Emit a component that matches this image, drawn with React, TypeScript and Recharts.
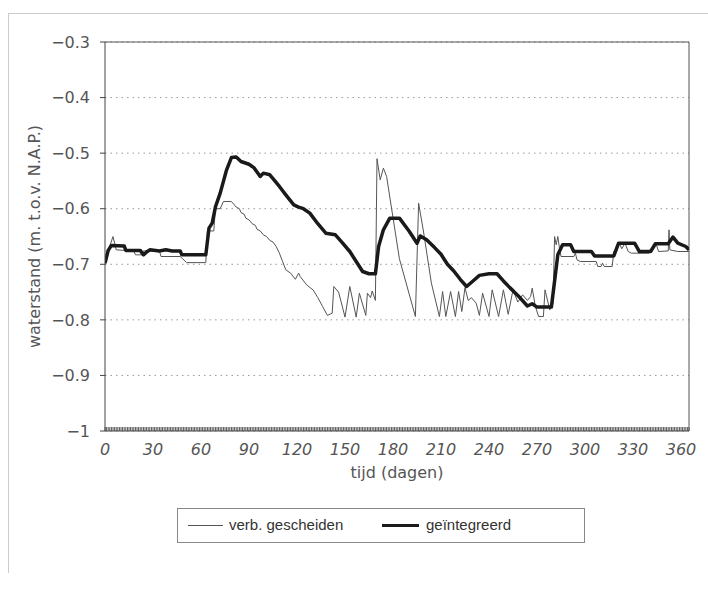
import React from "react";
import {
  LineChart,
  Line,
  XAxis,
  YAxis,
  CartesianGrid,
  ReferenceLine,
} from "recharts";

// verb. gescheiden (thin line)
const thinDays = [
  0, 3, 5, 7, 12, 18, 19, 23, 24, 34, 35, 47, 51, 63, 64, 68, 69, 72, 74, 79,
  82, 84, 85, 87, 88, 90, 92, 94, 95, 97, 99, 101, 103, 105, 107, 109, 111, 113,
  116, 119, 121, 122, 126, 130, 133, 136, 139, 142, 143, 146, 150, 153, 157,
  159, 163, 164, 166, 167, 169, 170, 172, 174, 176, 184, 194, 196, 199, 204,
  209, 211, 213, 216, 219, 221, 223, 225, 227, 229, 232, 234, 236, 240, 242,
  246, 249, 252, 255, 258, 261, 264, 266, 267, 269, 271, 274, 275, 278, 280,
  281, 282, 283, 284, 285, 293, 294, 295, 297, 307, 308, 310, 311, 312, 317,
  318, 320, 321, 323, 325, 327, 329, 340, 342, 344, 346, 352, 352.5, 353, 358,
  365,
];
const thinLevels = [
  -0.7, -0.667, -0.65, -0.674, -0.675, -0.676, -0.683, -0.683, -0.676, -0.676,
  -0.686, -0.686, -0.697, -0.697, -0.64, -0.64, -0.6, -0.6, -0.587, -0.587,
  -0.597, -0.6, -0.607, -0.61, -0.617, -0.62, -0.627, -0.63, -0.637, -0.64,
  -0.647, -0.65, -0.657, -0.66, -0.668, -0.68, -0.695, -0.71, -0.716, -0.727,
  -0.716, -0.722, -0.737, -0.746, -0.76, -0.776, -0.792, -0.788, -0.74, -0.75,
  -0.795, -0.74, -0.795, -0.752, -0.792, -0.752, -0.76, -0.748, -0.765, -0.51,
  -0.548, -0.527, -0.542, -0.69, -0.794, -0.59, -0.64, -0.734, -0.794, -0.749,
  -0.794, -0.749, -0.794, -0.749, -0.785, -0.742, -0.765, -0.76, -0.77, -0.792,
  -0.752, -0.794, -0.746, -0.794, -0.746, -0.79, -0.746, -0.768, -0.755,
  -0.765, -0.758, -0.743, -0.776, -0.794, -0.794, -0.746, -0.782, -0.77,
  -0.65, -0.665, -0.65, -0.67, -0.686, -0.686, -0.68, -0.692, -0.695, -0.695,
  -0.704, -0.704, -0.698, -0.704, -0.704, -0.677, -0.675, -0.66, -0.672,
  -0.662, -0.677, -0.68, -0.68, -0.672, -0.66, -0.677, -0.676, -0.638, -0.674,
  -0.677, -0.677,
];

// geïntegreerd (thick line)
const thickDays = [
  0, 2, 4, 12, 13, 22, 24, 26, 28, 34, 38, 42, 47, 48, 63, 65, 67, 69, 72, 76,
  79, 82, 85, 90, 93, 97, 99, 103, 105, 109, 113, 118, 121, 124, 128, 133, 138,
  144, 148, 153, 157, 161, 165, 169, 171, 174, 178, 184, 190, 195, 197, 201,
  206, 210, 214, 218, 222, 226, 230, 234, 240, 245, 249, 253, 258, 264, 267,
  270, 279, 281, 283, 286, 291, 293, 304, 306, 318, 321, 331, 334, 341, 344,
  352, 355, 358, 363, 365,
];
const thickLevels = [
  -0.698, -0.675, -0.666, -0.667, -0.675, -0.675, -0.683, -0.678, -0.674,
  -0.676, -0.674, -0.676, -0.676, -0.683, -0.683, -0.635, -0.626, -0.597,
  -0.572, -0.53, -0.508, -0.507, -0.515, -0.52, -0.526, -0.542, -0.536, -0.539,
  -0.546, -0.56, -0.575, -0.593, -0.597, -0.6, -0.608, -0.627, -0.644, -0.647,
  -0.66, -0.677, -0.695, -0.713, -0.717, -0.717, -0.668, -0.638, -0.617,
  -0.617, -0.64, -0.662, -0.649, -0.656, -0.67, -0.682, -0.7, -0.712, -0.727,
  -0.74, -0.73, -0.72, -0.717, -0.717, -0.73, -0.742, -0.756, -0.775, -0.771,
  -0.777, -0.777, -0.73, -0.683, -0.665, -0.665, -0.677, -0.677, -0.685,
  -0.685, -0.662, -0.662, -0.677, -0.677, -0.663, -0.663, -0.651, -0.662,
  -0.668, -0.674,
];

const xLabels = [0, 30, 60, 90, 120, 150, 180, 210, 240, 270, 300, 330, 360];
const yTicks = [-1, -0.9, -0.8, -0.7, -0.6, -0.5, -0.4, -0.3];
const dayTicks = Array.from({ length: 366 }, (_, i) => i);

const thinData = thinDays.map((day, i) => ({ day, level: thinLevels[i] }));
const thickData = thickDays.map((day, i) => ({ day, level: thickLevels[i] }));

const axisFont = "'DejaVu Sans', sans-serif";

function DayTick(props: any) {
  const { x, y, payload } = props;
  const day = payload.value;
  return (
    <g>
      <line x1={x} x2={x} y1={y} y2={y - 4} stroke="#555" strokeWidth={1} />
      {xLabels.includes(day) && (
        <text
          x={x}
          y={y + 24}
          textAnchor="middle"
          fontFamily={axisFont}
          fontSize={16}
          fontStyle="italic"
          fill="#555"
        >
          {day}
        </text>
      )}
    </g>
  );
}

function LegendBox() {
  const txt: React.CSSProperties = {
    position: "absolute",
    top: 7,
    fontFamily: "'Liberation Sans', Arial, sans-serif",
    fontSize: 15,
    color: "#333",
    whiteSpace: "nowrap",
  };
  return (
    <div
      style={{
        position: "absolute",
        left: 177,
        top: 508,
        width: 408,
        height: 35,
        border: "1px solid #888",
        boxSizing: "border-box",
        background: "#fff",
      }}
    >
      <div style={{ position: "absolute", left: 10, top: 16, width: 35, borderTop: "1px solid #555" }} />
      <span style={{ ...txt, left: 51 }}>verb. gescheiden</span>
      <div style={{ position: "absolute", left: 204, top: 15, width: 37, borderTop: "3px solid #1a1a1a" }} />
      <span style={{ ...txt, left: 248 }}>geïntegreerd</span>
    </div>
  );
}

export default function App() {
  return (
    <div
      style={{
        position: "absolute",
        left: 0,
        top: 0,
        width: 708,
        height: 589,
        background: "#fff",
      }}
    >
      <div style={{ position: "absolute", left: 8, top: 13, width: 700, borderTop: "1px solid #ccc" }} />
      <div style={{ position: "absolute", left: 8, top: 13, height: 560, borderLeft: "1px solid #ccc" }} />
      <LineChart
        width={708}
        height={589}
        margin={{ top: 42, right: 19, left: 20, bottom: 108 }}
      >
        <CartesianGrid
          vertical={false}
          stroke="#999"
          strokeDasharray="1.5 4"
        />
        <XAxis
          type="number"
          dataKey="day"
          domain={[0, 365]}
          ticks={dayTicks}
          interval={0}
          tick={<DayTick />}
          tickLine={false}
          tickSize={0}
          tickMargin={0}
          height={50}
          allowDataOverflow
          axisLine={{ stroke: "#444" }}
          label={{
            value: "tijd (dagen)",
            position: "insideBottom",
            offset: 3,
            style: { fontFamily: axisFont, fontSize: 16, fill: "#555" },
          }}
        />
        <YAxis
          type="number"
          domain={[-1, -0.3]}
          ticks={yTicks}
          interval={0}
          width={85}
          tickSize={5}
          tickMargin={10}
          allowDataOverflow
          tickFormatter={(v: number) => String(v).replace("-", "\u2212")}
          tick={{ fontFamily: axisFont, fontSize: 16, fill: "#555" }}
          tickLine={{ stroke: "#444" }}
          axisLine={{ stroke: "#444" }}
          label={{
            value: "waterstand (m. t.o.v. N.A.P.)",
            angle: -90,
            position: "insideLeft",
            offset: 14,
            style: { fontFamily: axisFont, fontSize: 16, fill: "#555", textAnchor: "middle" },
          }}
        />
        <ReferenceLine y={-0.3} stroke="#555" />
        <ReferenceLine x={365} stroke="#555" />
        <Line
          data={thinData}
          dataKey="level"
          name="verb. gescheiden"
          type="linear"
          stroke="#555"
          strokeWidth={1}
          dot={false}
          isAnimationActive={false}
        />
        <Line
          data={thickData}
          dataKey="level"
          name="geïntegreerd"
          type="linear"
          stroke="#1a1a1a"
          strokeWidth={3.5}
          strokeLinejoin="round"
          dot={false}
          isAnimationActive={false}
        />
      </LineChart>
      <LegendBox />
    </div>
  );
}
